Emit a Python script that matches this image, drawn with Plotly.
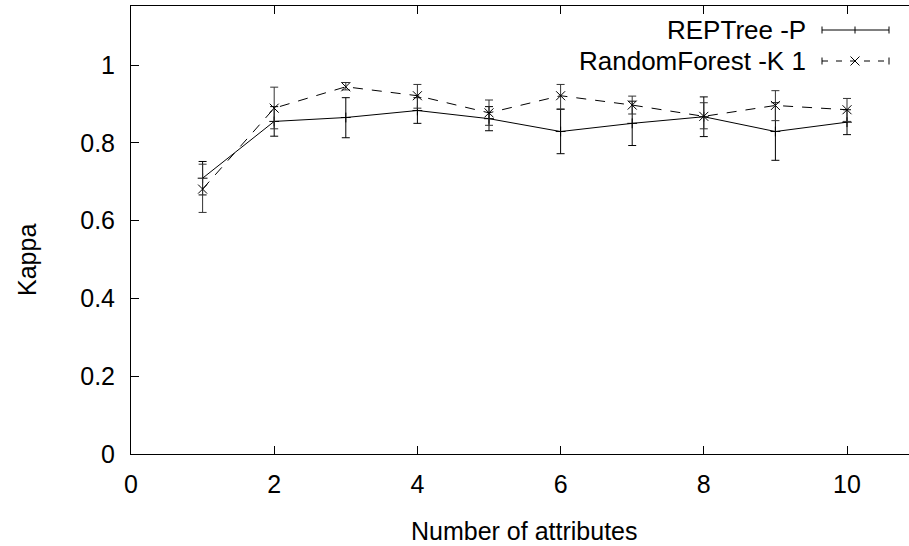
import plotly.graph_objects as go

# ---- data ----
attributes = [1, 2, 3, 4, 5, 6, 7, 8, 9, 10]

rep_kappa = [0.709, 0.855, 0.865, 0.883, 0.862, 0.829, 0.850, 0.867, 0.829, 0.853]
rep_low   = [0.666, 0.817, 0.813, 0.850, 0.831, 0.772, 0.793, 0.816, 0.755, 0.821]
rep_high  = [0.752, 0.893, 0.916, 0.916, 0.893, 0.886, 0.907, 0.918, 0.903, 0.885]

rf_kappa = [0.681, 0.889, 0.944, 0.921, 0.877, 0.921, 0.897, 0.868, 0.896, 0.885]
rf_low   = [0.621, 0.836, 0.936, 0.889, 0.845, 0.887, 0.874, 0.836, 0.857, 0.855]
rf_high  = [0.745, 0.943, 0.955, 0.950, 0.910, 0.950, 0.920, 0.903, 0.934, 0.914]

series_names = ["REPTree -P", "RandomForest -K 1"]
x_ticks = [0, 2, 4, 6, 8, 10]
y_ticks = [0, 0.2, 0.4, 0.6, 0.8, 1]
y_tick_text = ["0", "0.2", "0.4", "0.6", "0.8", "1"]
x_title = "Number of attributes"
y_title = "Kappa"

FONT = "Liberation Sans, Arial, sans-serif"
FS = 25
FS_KEY = 26

W, H = 909, 546
L, R, T, B = 131, 0, 6, 92
PW, PH = W - L - R, H - T - B


def px(X):
    return (X - L) / PW


def py(Y):
    return (H - B - Y) / PH


fig = go.Figure()

fig.add_trace(go.Scatter(
    x=attributes, y=rep_kappa, mode="lines+markers", name=series_names[0],
    line=dict(color="black", width=1),
    marker=dict(symbol="cross-thin", size=7, line=dict(color="black", width=1)),
    error_y=dict(type="data", symmetric=False,
                 array=[h - v for h, v in zip(rep_high, rep_kappa)],
                 arrayminus=[v - l for v, l in zip(rep_kappa, rep_low)],
                 color="black", thickness=1, width=4),
    showlegend=False,
))

fig.add_trace(go.Scatter(
    x=attributes, y=rf_kappa, mode="lines+markers", name=series_names[1],
    line=dict(color="black", width=1, dash="10px,9px"),
    marker=dict(symbol="x-thin", size=9, line=dict(color="black", width=1)),
    error_y=dict(type="data", symmetric=False,
                 array=[h - v for h, v in zip(rf_high, rf_kappa)],
                 arrayminus=[v - l for v, l in zip(rf_kappa, rf_low)],
                 color="#333333", thickness=1, width=4),
    showlegend=False,
))

# ---- hand-made gnuplot-style key ----
shapes = []
annotations = []
rows = [30, 61]
x0, x1, xm = 822, 889, 855
for i, (name, yrow) in enumerate(zip(series_names, rows)):
    annotations.append(dict(
        x=px(808), y=py(yrow), xref="paper", yref="paper",
        text=name, showarrow=False, xanchor="right", yanchor="middle",
        font=dict(family=FONT, size=FS_KEY, color="black")))
    dash = "solid" if i == 0 else "6px,8px"
    shapes.append(dict(type="line", xref="paper", yref="paper",
                       x0=px(x0), x1=px(x1), y0=py(yrow), y1=py(yrow),
                       line=dict(color="black", width=1, dash=dash)))
    for xc in (x0, x1):
        shapes.append(dict(type="line", xref="paper", yref="paper",
                           x0=px(xc), x1=px(xc), y0=py(yrow - 3.5), y1=py(yrow + 3.5),
                           line=dict(color="black", width=1)))
    if i == 0:
        shapes.append(dict(type="line", xref="paper", yref="paper",
                           x0=px(xm), x1=px(xm), y0=py(yrow - 3.5), y1=py(yrow + 3.5),
                           line=dict(color="black", width=1)))
    else:
        for d in (1, -1):
            shapes.append(dict(type="line", xref="paper", yref="paper",
                               x0=px(xm - 4.5), x1=px(xm + 4.5),
                               y0=py(yrow - 4.5 * d), y1=py(yrow + 4.5 * d),
                               line=dict(color="black", width=1)))

# axis titles
annotations.append(dict(x=px(524), y=py(531), xref="paper", yref="paper",
                        text=x_title, showarrow=False, xanchor="center", yanchor="middle",
                        font=dict(family=FONT, size=FS, color="black")))
annotations.append(dict(x=px(27), y=py(260), xref="paper", yref="paper",
                        text=y_title, showarrow=False, textangle=-90,
                        xanchor="center", yanchor="middle",
                        font=dict(family=FONT, size=FS, color="black")))

fig.update_layout(
    width=W, height=H,
    margin=dict(l=L, r=R, t=T, b=B),
    paper_bgcolor="white", plot_bgcolor="white",
    font=dict(family=FONT, size=FS, color="black"),
    shapes=shapes, annotations=annotations,
    showlegend=False,
)

fig.update_xaxes(
    range=[0, PW / 71.6], tickvals=x_ticks, ticktext=[str(t) for t in x_ticks],
    ticks="inside", ticklen=8, tickcolor="black", tickwidth=1,
    showline=True, linecolor="black", linewidth=1, mirror="ticks",
    showgrid=False, zeroline=False, ticklabelstandoff=8,
    tickfont=dict(family=FONT, size=FS, color="black"),
)
fig.update_yaxes(
    range=[0, PH / 389.0], tickvals=y_ticks, ticktext=y_tick_text,
    ticks="inside", ticklen=8, tickcolor="black", tickwidth=1,
    showline=True, linecolor="black", linewidth=1, mirror=False,
    showgrid=False, zeroline=False, ticklabelstandoff=10,
    tickfont=dict(family=FONT, size=FS, color="black"),
)

fig.write_html("out.html", config={"displayModeBar": False},
               post_script="document.body.style.margin='0px';")
